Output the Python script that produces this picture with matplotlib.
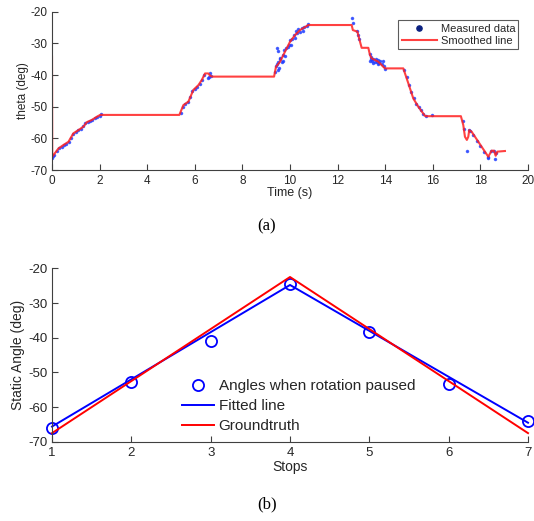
import matplotlib
matplotlib.use("Agg")
import matplotlib.pyplot as plt

plt.rcParams['font.family'] = ['Liberation Sans', 'DejaVu Sans']
plt.rcParams['axes.unicode_minus'] = False

# smoothed orientation over time (breakpoints of the smoothed curve)
t_smooth = [0.0, 0.01, 0.27, 0.48, 0.69, 0.90, 1.11, 1.32, 1.46, 1.67, 1.88, 2.02,
            5.35, 5.52, 5.73, 5.94, 6.15, 6.29, 6.43, 6.57, 6.65, 6.75,
            9.33, 9.41, 9.58, 9.79, 10.0, 10.21, 10.42, 10.77,
            12.59, 12.64, 12.83, 12.92, 13.01, 13.29, 13.36, 13.43, 13.71, 13.92, 13.99,
            14.76, 14.97, 15.18, 15.39, 15.67, 15.74,
            17.18, 17.28, 17.35, 17.43, 17.49, 17.53, 17.63, 18.33, 18.47, 18.57, 18.64, 18.71, 19.03]
th_smooth = [-34.2, -65.8, -63.2, -62.1, -61.1, -58.4, -57.4, -56.3, -54.9, -54.2, -53.2, -52.6,
             -52.6, -49.5, -48.4, -44.7, -43.2, -41.6, -39.5, -39.5, -40.3, -40.5,
             -40.5, -37.4, -35.8, -32.6, -29.5, -27.4, -25.8, -24.2,
             -24.2, -25.8, -26.3, -28.9, -31.4, -31.4, -33.7, -34.7, -35.8, -37.4, -37.9,
             -37.9, -42.6, -47.4, -50.0, -52.9, -53.0,
             -53.0, -55.8, -59.5, -60.5, -59.5, -57.4, -57.9, -65.8, -63.9, -63.9, -65.5, -64.2, -64.0]

# raw measurements
t_meas = [0.0, 0.05, 0.1, 0.2, 0.3, 0.4, 0.5, 0.6, 0.7, 0.8, 0.9, 1.0, 1.1, 1.2, 1.3, 1.4,
          1.5, 1.6, 1.7, 1.8, 1.9, 2.0, 2.05,
          5.4, 5.5, 5.6, 5.7, 5.8, 5.9, 6.0, 6.1, 6.2, 6.3, 6.4, 6.55, 6.6, 6.65, 6.7,
          9.35, 9.4, 9.45, 9.45, 9.5, 9.5, 9.5, 9.55, 9.6, 9.6, 9.65, 9.7, 9.7, 9.75, 9.8,
          9.85, 9.9, 9.95, 10.0, 10.05, 10.1, 10.15, 10.2, 10.25, 10.3, 10.35, 10.4, 10.5,
          10.55, 10.6, 10.7, 10.75,
          12.6, 12.65, 12.8, 12.85, 12.9, 13.35, 13.35, 13.4, 13.4, 13.45, 13.5, 13.5, 13.55,
          13.6, 13.65, 13.7, 13.7, 13.75, 13.8, 13.85, 13.9, 13.95, 14.0,
          14.8, 14.9, 15.0, 15.1, 15.2, 15.3, 15.4, 15.5, 15.6, 15.7, 15.95,
          17.25, 17.3, 17.42, 17.5, 17.55, 17.7, 17.85, 18.0, 18.15, 18.3, 18.32, 18.45,
          18.55, 18.6, 18.65]
th_meas = [-66.3, -65.5, -65.2, -64.0, -63.0, -62.6, -62.1, -61.7, -61.0, -59.8, -58.6, -58.0,
           -57.4, -57.0, -56.2, -55.2, -54.9, -54.5, -54.1, -53.6, -53.1, -52.8, -52.3,
           -52.0, -50.0, -49.2, -48.6, -47.0, -45.2, -44.3, -43.8, -42.8, -41.5, -40.0, -41.0,
           -40.5, -39.2, -40.2,
           -39.0, -37.0, -36.5, -31.5, -36.0, -38.5, -32.3, -37.8, -35.0, -34.5, -36.0, -33.8,
           -35.5, -32.0, -34.0, -31.5, -31.0, -30.5, -29.0, -30.5, -28.5, -27.5, -28.3, -26.0,
           -26.8, -25.5, -26.5, -25.0, -26.2, -24.8, -24.5, -24.0,
           -22.0, -23.5, -26.0, -27.5, -28.5, -33.5, -35.6, -35.0, -34.3, -35.5, -34.8, -36.3,
           -35.8, -35.0, -36.0, -35.3, -36.6, -36.2, -35.5, -36.5, -35.7, -37.0, -38.0,
           -38.5, -40.5, -43.0, -45.3, -47.3, -49.0, -50.1, -51.2, -52.3, -53.0, -52.7,
           -54.5, -57.2, -63.9, -57.5, -57.8, -59.0, -60.8, -62.5, -64.2, -65.8, -66.3, -64.0,
           -63.9, -66.5, -64.5]

# static angles at each stop
stops = [1, 2, 3, 4, 5, 6, 7]
paused_angles = [-65.9, -52.9, -40.9, -24.6, -38.3, -53.4, -64.0]
fit_stops = [1, 4, 7]
fit_angles = [-65.6, -24.8, -64.5]
truth_stops = [1, 4, 7]
truth_angles = [-67.5, -22.5, -67.5]

axis_col = '#404040'
text_col = '#262626'


def style_axes(ax, fs):
    for side in ('top', 'right'):
        ax.spines[side].set_visible(False)
    for side in ('left', 'bottom'):
        ax.spines[side].set_color(axis_col)
        ax.spines[side].set_linewidth(0.8)
    ax.tick_params(direction='in', length=4, width=0.8, color=axis_col,
                   labelsize=fs, labelcolor=text_col)


fig = plt.figure(figsize=(5.34, 5.21), dpi=100)

# (a) orientation over time
ax1 = fig.add_axes([0.0974, 0.6737, 0.8914, 0.3038])
ax1.plot(t_meas, th_meas, '.', color='#1f3dff', markersize=3, alpha=0.75,
         label='Measured data')
ax1.plot(t_smooth, th_smooth, '-', color='#ff2020', linewidth=1.5, alpha=0.85,
         label='Smoothed line')
ax1.set_xlim(0, 20)
ax1.set_ylim(-70, -20)
ax1.set_xticks(range(0, 21, 2))
ax1.set_yticks(range(-70, -19, 10))
style_axes(ax1, 8.5)
ax1.set_xlabel('Time (s)', fontsize=9, color=text_col, labelpad=0)
ax1.set_ylabel('theta (deg)', fontsize=8.5, color=text_col, labelpad=1)
leg1 = ax1.legend(loc='upper right', bbox_to_anchor=(0.98, 0.945), fontsize=8,
                  frameon=True, fancybox=False, borderpad=0.3, labelspacing=0.2,
                  handlelength=3.2, handletextpad=0.3, markerscale=2.5,
                  borderaxespad=0)
leg1.get_frame().set_edgecolor('#333333')
leg1.get_frame().set_linewidth(0.8)
leg1.legend_handles[0].set_color('#0a2080')
leg1.legend_handles[0].set_alpha(1)
for txt in leg1.get_texts():
    txt.set_color(text_col)

# (b) static angles per stop
ax2 = fig.add_axes([0.0974, 0.152, 0.8914, 0.333])
ax2.plot(stops, paused_angles, 'o', markerfacecolor='none', markeredgecolor='#0000ff',
         markersize=8, markeredgewidth=1.3, label='Angles when rotation paused')
ax2.plot(fit_stops, fit_angles, '-', color='#0000ff', linewidth=1.4, label='Fitted line')
ax2.plot(truth_stops, truth_angles, '-', color='#ff0000', linewidth=1.4, label='Groundtruth')
ax2.set_xlim(1, 7)
ax2.set_ylim(-70, -20)
ax2.set_xticks(stops)
ax2.set_yticks(range(-70, -19, 10))
for ln in ax2.lines:
    ln.set_clip_on(False)
style_axes(ax2, 9.5)
ax2.set_xlabel('Stops', fontsize=10, color=text_col, labelpad=1)
ax2.set_ylabel('Static Angle (deg)', fontsize=10, color=text_col, labelpad=2)
leg2 = ax2.legend(loc='upper left', bbox_to_anchor=(0.26, 0.395), fontsize=11,
                  frameon=False, labelspacing=0.38, handlelength=2.1,
                  handletextpad=0.3, borderaxespad=0)
for txt in leg2.get_texts():
    txt.set_color(text_col)

fig.text(0.5, 0.565, '(a)', ha='center', va='center', fontsize=12,
         family=['Liberation Serif', 'DejaVu Serif'])
fig.text(0.5, 0.031, '(b)', ha='center', va='center', fontsize=12,
         family=['Liberation Serif', 'DejaVu Serif'])

fig.savefig('out.png', dpi=100)
